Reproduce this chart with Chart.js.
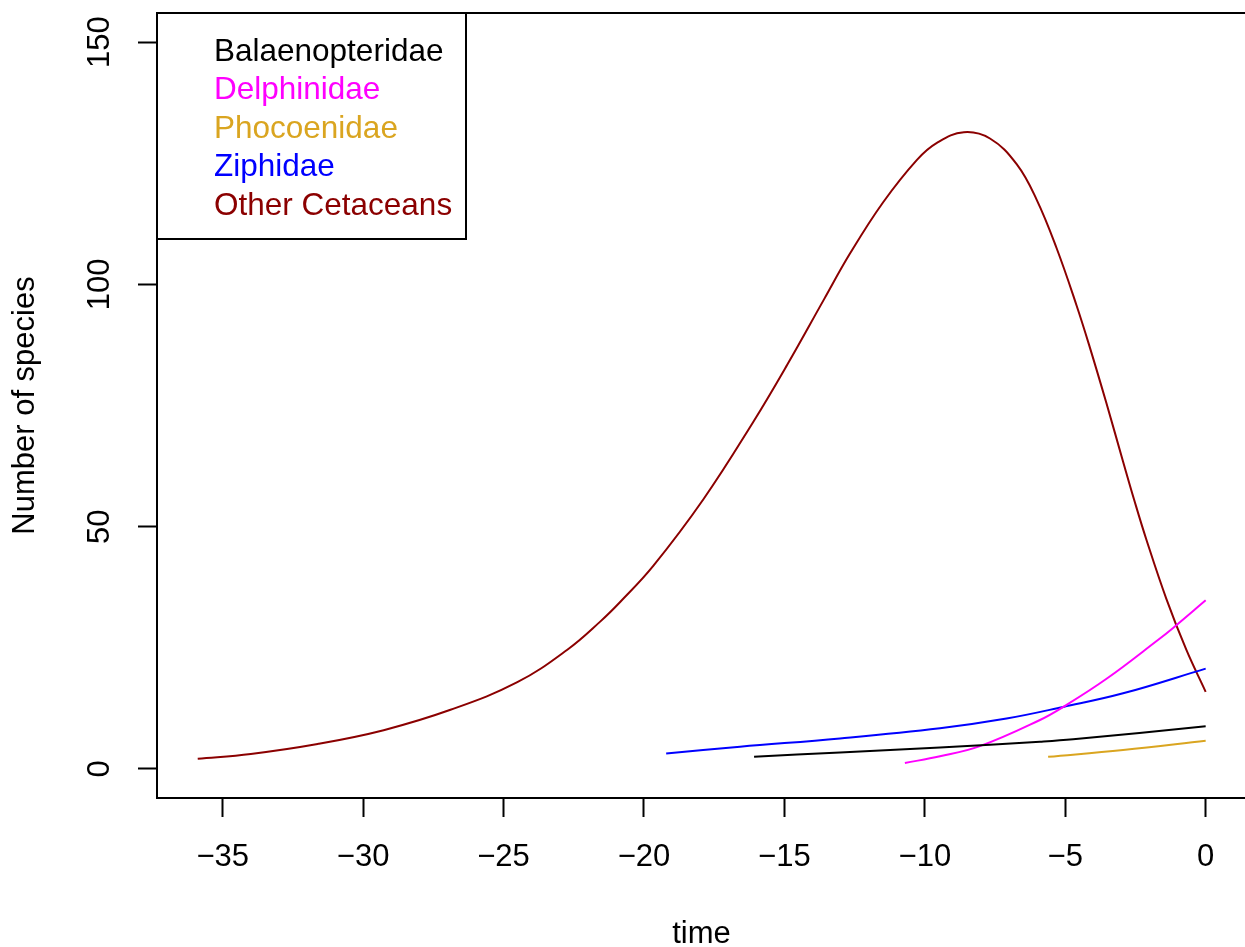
<!DOCTYPE html>
<html>
<head>
<meta charset="utf-8">
<script src="https://cdn.jsdelivr.net/npm/chart.js@4.4.1/dist/chart.umd.min.js"></script>
<style>
  html, body { margin: 0; padding: 0; background: #fff; overflow: hidden; }
  #wrap { width: 1245px; height: 947px; overflow: hidden; }
</style>
</head>
<body>
<div id="wrap"><canvas id="chart" width="1248" height="947"></canvas></div>
<script>
// series (time in Myr, number of species)
const seriesNames = ["Balaenopteridae", "Delphinidae", "Phocoenidae", "Ziphidae", "Other Cetaceans"];
const seriesColors = ["#000000", "#FF00FF", "#DAA520", "#0000FF", "#8B0000"];

const balaenTime = [-16.08, -13.02, -9.46, -5.9, -4.72, 0];
const balaenCount = [2.5, 3.4, 4.4, 5.6, 6.1, 8.8];

const delphTime = [-10.71, -9.46, -8.04, -5.9, -5.07, -3.53, -1.7, -1.16, 0];
const delphCount = [1.24, 2.6, 4.7, 10.1, 12.8, 18.6, 26.6, 29.1, 34.8];

const phocTime = [-5.61, -2.94, 0];
const phocCount = [2.5, 3.9, 5.8];

const ziphTime = [-19.21, -16.58, -13.02, -9.46, -7.09, -5.07, -2.94, 0];
const ziphCount = [3.2, 4.6, 6.3, 8.4, 10.4, 12.8, 15.6, 20.7];

const otherTime = [-35.89, -34.0, -31.62, -29.27, -26.89, -24.51, -22.73, -21.56, -20.84, -19.67,
  -17.89, -16.11, -14.9, -13.59, -12.66, -11.49, -10.28, -9.57, -8.61, -7.68, -6.73, -6.02,
  -5.31, -4.6, -4.13, -3.53, -2.94, -2.55, -2.11, -1.4, -0.69, 0];
const otherCount = [2.1, 3.1, 5.15, 8.0, 12.2, 17.9, 24.6, 30.4, 34.5, 41.9,
  55.6, 71.6, 83.4, 96.9, 106.4, 116.9, 125.7, 129.2, 131.4, 130.1, 124.8, 117.5,
  107.5, 95.7, 87.1, 75.4, 63.4, 55.6, 47.3, 35.1, 24.6, 15.9];

const xTickValues = [-35, -30, -25, -20, -15, -10, -5, 0];
const xTickLabels = ["\u221235", "\u221230", "\u221225", "\u221220", "\u221215", "\u221210", "\u22125", "0"];
const yTickValues = [0, 50, 100, 150];
const yTickLabels = ["0", "50", "100", "150"];

const allTimes = [balaenTime, delphTime, phocTime, ziphTime, otherTime];
const allCounts = [balaenCount, delphCount, phocCount, ziphCount, otherCount];

const FONT = '"Liberation Sans", Arial, Helvetica, sans-serif';
Chart.defaults.font.family = FONT;
Chart.defaults.font.size = 31;
Chart.defaults.color = "#000";

const datasets = seriesNames.map((name, i) => ({
    label: name,
    data: allTimes[i].map((t, j) => ({ x: t, y: allCounts[i][j] })),
    borderColor: seriesColors[i],
    borderWidth: 2,
    pointRadius: 0,
    fill: false,
    tension: 0.4,
}));

// R style box around the plot region
const boxPlugin = {
    id: "box",
    afterDraw: (chart) => {
        const { ctx, chartArea: a } = chart;
        ctx.save();
        ctx.strokeStyle = "#000";
        ctx.lineWidth = 2;
        ctx.strokeRect(a.left, a.top, a.right - a.left, a.bottom - a.top);
        ctx.restore();
    },
};

// legend: bordered box with coloured text only
const legendPlugin = {
    id: "rlegend",
    afterDraw: (chart) => {
        const { ctx, chartArea: a } = chart;
        ctx.save();
        ctx.fillStyle = "#fff";
        ctx.fillRect(a.left, a.top, 309, 226);
        ctx.strokeStyle = "#000";
        ctx.lineWidth = 2;
        ctx.strokeRect(a.left, a.top, 309, 226);
        ctx.font = "31.5px " + FONT;
        ctx.textBaseline = "middle";
        ctx.textAlign = "left";
        seriesNames.forEach((name, i) => {
            ctx.fillStyle = seriesColors[i];
            ctx.fillText(name, a.left + 57, a.top + 39 + i * 38.6);
        });
        ctx.restore();
    },
};

new Chart(document.getElementById("chart"), {
    type: "line",
    data: { datasets },
    options: {
        responsive: false,
        animation: false,
        devicePixelRatio: 1,
        layout: { padding: { left: 0, top: 13, right: 2, bottom: 0 } },
        plugins: { legend: { display: false }, tooltip: { enabled: false } },
        scales: {
            x: {
                type: "linear",
                min: -37.34,
                max: 1.436,
                afterBuildTicks: (scale) => {
                    scale.ticks = xTickValues.map((v) => ({ value: v }));
                },
                afterFit: (scale) => {
                    scale.height = 149;
                    scale.paddingLeft = 0;
                    scale.paddingRight = 0;
                },
                ticks: {
                    autoSkip: false,
                    maxRotation: 0,
                    padding: 22,
                    color: "#000",
                    callback: (v) => xTickLabels[xTickValues.indexOf(v)],
                },
                grid: {
                    display: true,
                    drawOnChartArea: false,
                    drawTicks: true,
                    tickLength: 19,
                    tickWidth: 2,
                    tickColor: "#000",
                },
                border: { display: true, color: "#000", width: 2 },
                title: { display: true, text: "time", color: "#000", padding: { top: 0, bottom: -6 } },
            },
            y: {
                type: "linear",
                min: -6,
                max: 156,
                afterBuildTicks: (scale) => {
                    scale.ticks = yTickValues.map((v) => ({ value: v }));
                },
                afterFit: (scale) => {
                    scale.width = 157;
                    scale.paddingTop = 0;
                    scale.paddingBottom = 0;
                },
                ticks: {
                    autoSkip: false,
                    minRotation: 90,
                    maxRotation: 90,
                    crossAlign: "center",
                    padding: 12,
                    color: "#000",
                    callback: (v) => yTickLabels[yTickValues.indexOf(v)],
                },
                grid: {
                    display: true,
                    drawOnChartArea: false,
                    drawTicks: true,
                    tickLength: 19,
                    tickWidth: 2,
                    tickColor: "#000",
                },
                border: { display: true, color: "#000", width: 2 },
                title: { display: true, text: "Number of species", color: "#000", padding: { top: 7, bottom: 0 } },
            },
        },
    },
    plugins: [boxPlugin, legendPlugin],
});
</script>
</body>
</html>
